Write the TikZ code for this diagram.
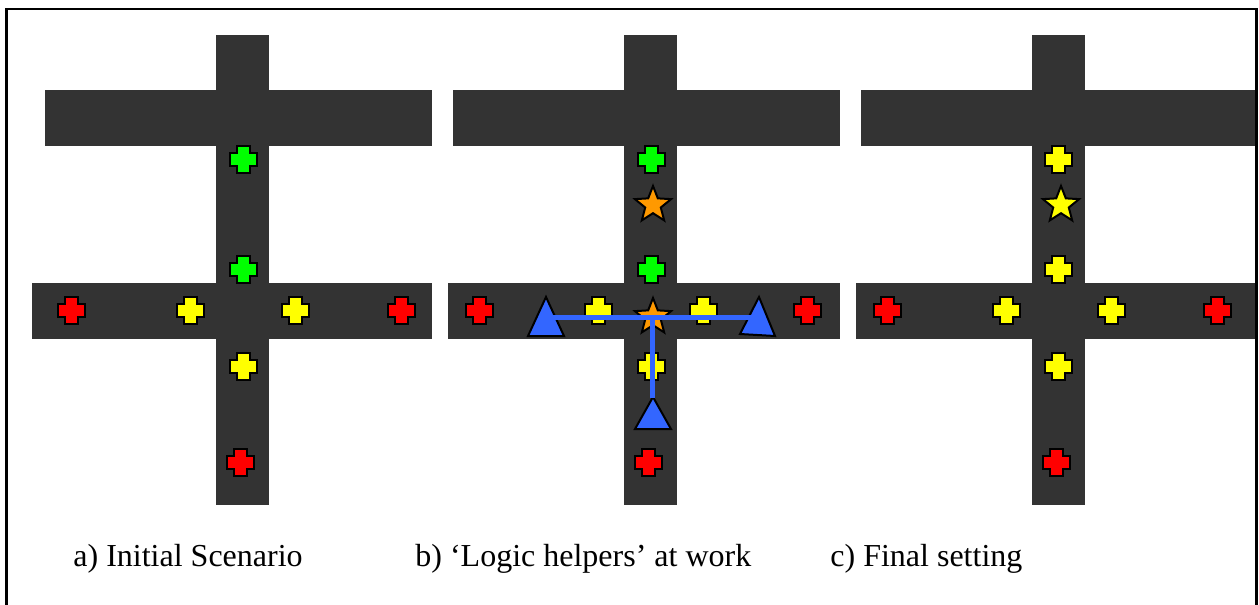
\documentclass[tikz,border=0pt]{standalone}
\usepackage{fontspec}
\setmainfont{Liberation Serif}
\definecolor{roadgray}{HTML}{333333}
\definecolor{cgreen}{HTML}{00FF00}
\definecolor{cyellow}{HTML}{FFFF00}
\definecolor{cred}{HTML}{FF0000}
\definecolor{corange}{HTML}{FF9900}
\definecolor{cblue}{HTML}{3366FF}
\tikzset{
  roadbar/.style={fill=roadgray, draw=none},
  outline/.style={draw=black, line width=1pt, line join=miter},
  helperline/.style={draw=cblue, line width=2.5pt},
  caption/.style={anchor=base west, inner sep=0pt, font=\fontsize{16pt}{19pt}\selectfont},
  frame/.style={draw=black, line width=1.25pt}
}
\newcommand\crossat[3]{%
  \draw[outline, fill=#3] (#1-6.5,#2-13.5) -- ++(13,0) -- ++(0,7) -- ++(7,0) -- ++(0,13) -- ++(-7,0) -- ++(0,7) -- ++(-13,0) -- ++(0,-7) -- ++(-7,0) -- ++(0,-13) -- ++(7,0) -- cycle;}
\newcommand\starat[3]{%
  \draw[outline, fill=#3, shift={(#1,#2)}] (-90:19) -- (-54:8.2) -- (-18:19) -- (18:8.2) -- (54:19) -- (90:8.2) -- (126:19) -- (162:8.2) -- (198:19) -- (234:8.2) -- cycle;}
\begin{document}
\begin{tikzpicture}[x=0.5pt, y=-0.5pt]
\useasboundingbox (0,0) rectangle (1259,605);
\fill[white] (0,0) rectangle (1259,605);
% ---------- panel a ----------
\fill[roadbar] (216,35) rectangle (269,505);
\fill[roadbar] (45,90) rectangle (432,146);
\fill[roadbar] (32,283) rectangle (432,339);
\crossat{243}{159}{cgreen}
\crossat{243}{269}{cgreen}
\crossat{71}{310}{cred}
\crossat{190}{310}{cyellow}
\crossat{295}{310}{cyellow}
\crossat{401}{310}{cred}
\crossat{243}{366}{cyellow}
\crossat{240}{462}{cred}
\node[caption] (capa) at (73,566) {a) Initial Scenario};
% ---------- panel b ----------
\fill[roadbar] (624,35) rectangle (677,505);
\fill[roadbar] (453,90) rectangle (840,146);
\fill[roadbar] (448,283) rectangle (840,339);
\crossat{651}{159}{cgreen}
\crossat{651}{269}{cgreen}
\crossat{479}{310}{cred}
\crossat{598}{310}{cyellow}
\crossat{703}{310}{cyellow}
\crossat{807}{310}{cred}
\crossat{651}{366}{cyellow}
\crossat{648}{462}{cred}
\starat{653}{205}{corange}
\starat{653}{317}{corange}
\draw[outline, fill=cblue] (546,297) -- (528,336) -- (564,336) -- cycle;
\draw[outline, fill=cblue] (759,297) -- (740,334) -- (775,336) -- cycle;
\draw[outline, fill=cblue] (653,397) -- (635,429) -- (671,429) -- cycle;
\coordinate (hl) at (553,317);
\coordinate (hr) at (752,317);
\coordinate (hc) at (652,317);
\coordinate (hb) at (652,398);
\draw[helperline] (hl) -- (hr);
\draw[helperline] (hc) -- (hb);
\node[caption] (capb) at (415,566) {b) ‘Logic helpers’ at work};
% ---------- panel c ----------
\fill[roadbar] (1032,35) rectangle (1085,505);
\fill[roadbar] (861,90) rectangle (1256,146);
\fill[roadbar] (856,283) rectangle (1256,339);
\crossat{1058}{159}{cyellow}
\crossat{1058}{269}{cyellow}
\crossat{887}{310}{cred}
\crossat{1006}{310}{cyellow}
\crossat{1111}{310}{cyellow}
\crossat{1217}{310}{cred}
\crossat{1058}{366}{cyellow}
\crossat{1056}{462}{cred}
\starat{1061}{205}{cyellow}
\node[caption] (capc) at (830,566) {c) Final setting};
% ---------- frame (open at the bottom, cut by the page) ----------
\draw[frame] (6.5,612) -- (6.5,9) -- (1256.7,9) -- (1256.7,612);
\end{tikzpicture}
\end{document}
